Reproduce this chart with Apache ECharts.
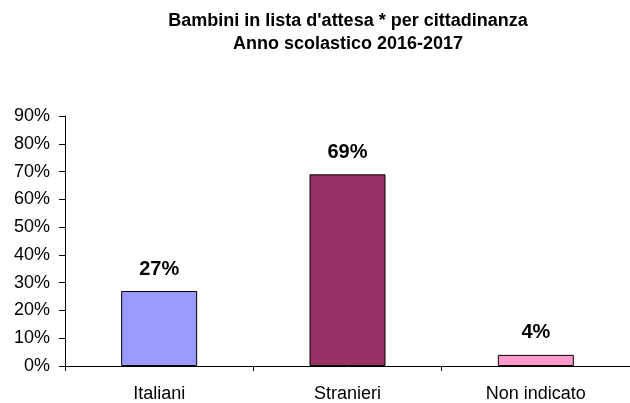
<!DOCTYPE html>
<html><head><meta charset="utf-8">
<script src="https://cdn.jsdelivr.net/npm/echarts@6/dist/echarts.min.js"></script>
<style>html,body{margin:0;padding:0;background:#fff}#c{width:630px;height:403px}</style>
</head><body><div id="c"></div>
<script>
const categories = ['Italiani', 'Stranieri', 'Non indicato'];
const values = [27, 69, 4];
const barColors = ['#9999FF', '#993366', '#FF99CC'];
const yTicks = [0, 10, 20, 30, 40, 50, 60, 70, 80, 90];

const chart = echarts.init(document.getElementById('c'), null, {renderer: 'canvas'});
chart.setOption({
  animation: false,
  backgroundColor: '#fff',
  title: {
    text: "Bambini in lista d'attesa * per cittadinanza\nAnno scolastico 2016-2017",
    left: 343, top: 5, textAlign: 'center',
    textStyle: {fontFamily: 'Liberation Sans', fontWeight: 'bold', fontSize: 18, lineHeight: 23, color: '#000'}
  },
  grid: {left: 65, top: 116, width: 567, height: 251, containLabel: false},
  xAxis: {
    type: 'category', data: categories,
    axisLine: {lineStyle: {color: '#000', width: 1}},
    axisTick: {show: true, alignWithLabel: false, length: 5, lineStyle: {color: '#000'}},
    axisLabel: {fontFamily: 'Liberation Sans', fontSize: 18, color: '#000', margin: 19},
    splitLine: {show: false}
  },
  yAxis: {
    type: 'value', min: 0, max: 90, interval: 10,
    axisLine: {show: true, lineStyle: {color: '#000', width: 1}},
    axisTick: {show: true, length: 6, lineStyle: {color: '#000'}},
    axisLabel: {fontFamily: 'Liberation Sans', fontSize: 18, color: '#000', margin: 15,
      formatter: v => yTicks.includes(v) ? v + '%' : ''},
    splitLine: {show: false}
  },
  series: [{
    type: 'bar', barWidth: 76,
    data: values.map((v, i) => ({value: v, itemStyle: {color: barColors[i]}})),
    itemStyle: {borderColor: '#000', borderWidth: 1},
    label: {show: true, position: 'top', distance: 12, formatter: '{c}%',
      fontFamily: 'Liberation Sans', fontWeight: 'bold', fontSize: 20, color: '#000'}
  }]
});
</script></body></html>
